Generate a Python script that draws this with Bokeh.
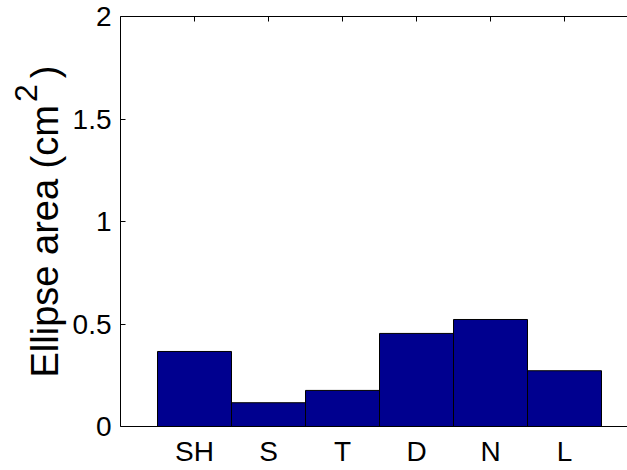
from math import pi

from bokeh.plotting import figure
from bokeh.models import LinearAxis, FixedTicker, Range1d, ColumnDataSource, Label
from bokeh.embed import file_html
from bokeh.resources import INLINE

# Mean ellipse area per condition
categories = ["SH", "S", "T", "D", "N", "L"]
positions = [1, 2, 3, 4, 5, 6]
areas = [0.366, 0.116, 0.176, 0.454, 0.522, 0.272]
y_ticks = [0, 0.5, 1, 1.5, 2]
y_tick_labels = ["0", "0.5", "1", "1.5", "2"]

FONT = "Liberation Sans"
BAR_COLOR = "#00008F"

W, H = 627, 470
# axes box: left edge, top edge and bottom edge in canvas pixels
BOX_LEFT, BOX_TOP, BOX_BOTTOM = 120, 16, 426
X_MIN, Y_MIN, Y_MAX = 0.0, 0.0, 2.0
PX_PER_X = 74.0
PX_PER_Y = (BOX_BOTTOM - BOX_TOP) / (Y_MAX - Y_MIN)

# the frame fills the canvas; axes sit at fixed positions inside it
x_lo = X_MIN - BOX_LEFT / PX_PER_X
x_hi = x_lo + W / PX_PER_X
y_hi = Y_MAX + BOX_TOP / PX_PER_Y
y_lo = Y_MIN - (H - BOX_BOTTOM) / PX_PER_Y

source = ColumnDataSource(data=dict(x=positions, top=areas, name=categories))

p = figure(
    width=W, height=H,
    x_range=Range1d(x_lo, x_hi), y_range=Range1d(y_lo, y_hi),
    output_backend="svg", toolbar_location=None,
    x_axis_location=None, y_axis_location=None,
    min_border=0,
)
p.outline_line_color = None
p.xgrid.visible = False
p.ygrid.visible = False
p.background_fill_color = "white"
p.border_fill_color = "white"

p.vbar(x="x", top="top", width=1.0, source=source,
       fill_color=BAR_COLOR, line_color="black", line_width=1)

# left axis
ya = LinearAxis(ticker=FixedTicker(ticks=y_ticks), fixed_location=X_MIN,
                bounds=(Y_MIN, Y_MAX))
ya.major_label_overrides = {t: s for t, s in zip(y_ticks, y_tick_labels)}
ya.major_tick_in = 5
ya.major_tick_out = 0
ya.minor_tick_in = 0
ya.minor_tick_out = 0
ya.major_label_standoff = 9
ya.major_label_text_font = FONT
ya.major_label_text_font_size = "28px"
ya.major_label_text_color = "black"
ya.axis_line_color = "black"
ya.major_tick_line_color = "black"
p.add_layout(ya, "left")

# bottom axis with category names
xa = LinearAxis(ticker=FixedTicker(ticks=positions), fixed_location=Y_MIN,
                bounds=(X_MIN, x_hi))
xa.major_label_overrides = {t: s for t, s in zip(positions, categories)}
xa.major_tick_in = 0
xa.major_tick_out = 0
xa.minor_tick_in = 0
xa.minor_tick_out = 0
xa.major_label_standoff = 9
xa.major_label_text_font = FONT
xa.major_label_text_font_size = "28px"
xa.major_label_text_color = "black"
xa.axis_line_color = "black"
p.add_layout(xa, "below")

# top edge of the box with inward ticks
ta = LinearAxis(ticker=FixedTicker(ticks=positions), fixed_location=Y_MAX,
                bounds=(X_MIN, x_hi))
ta.major_tick_in = 5
ta.major_tick_out = 0
ta.minor_tick_in = 0
ta.minor_tick_out = 0
ta.major_label_text_font_size = "0px"
ta.major_label_text_color = None
ta.major_label_standoff = 0
ta.axis_line_color = "black"
ta.major_tick_line_color = "black"
p.add_layout(ta, "above")


def to_data(px, py):
    return x_lo + px / PX_PER_X, y_hi - py / PX_PER_Y


# rotated y-axis title with a raised "2"
MAIN_SIZE, SUP_SIZE = 38, 32
main_text = "Ellipse area (cm"
# Arial/Liberation Sans advance widths (per 1000 em)
adv = {"E": 667, "l": 222, "i": 222, "p": 556, "s": 500, "e": 556, " ": 278,
       "a": 556, "r": 333, "(": 333, "c": 500, "m": 833, "2": 556, ")": 333}
main_w = sum(adv[ch] for ch in main_text) * MAIN_SIZE / 1000
sup_w = adv["2"] * SUP_SIZE / 1000

base_x = 44          # anchor column of the rotated title
start_y = 377        # where the title begins (its lower end)
sup_raise = 19
gap_before, gap_after = 3, 6

sup_y = start_y - main_w - gap_before
close_y = sup_y - sup_w - gap_after
pieces = [
    (main_text, MAIN_SIZE, base_x, start_y),
    ("2", SUP_SIZE, base_x - sup_raise, sup_y),
    (")", MAIN_SIZE, base_x, close_y),
]
for txt, size, px, py in pieces:
    dx, dy = to_data(px, py)
    p.add_layout(Label(
        x=dx, y=dy, text=txt, angle=pi / 2,
        text_font=FONT, text_font_size=f"{size}px", text_color="black",
        text_align="left", text_baseline="alphabetic",
    ))

open("out.html", "w").write(file_html(p, INLINE))
